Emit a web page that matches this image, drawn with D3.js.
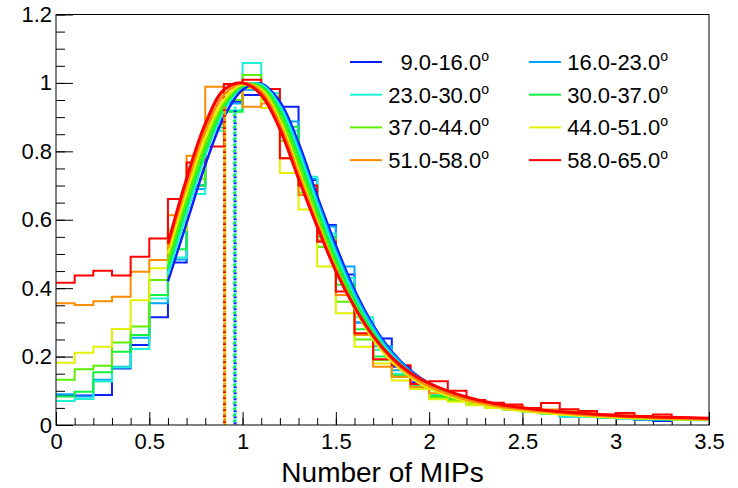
<!DOCTYPE html>
<html>
<head>
<meta charset="utf-8">
<script src="https://cdn.jsdelivr.net/npm/d3@7"></script>
<style>
  body { margin: 0; background: #fff; }
  text { font-family: "Liberation Sans", Arial, Helvetica, sans-serif; fill: #000; }
</style>
</head>
<body>
<div id="chart"></div>
<script>
// bin low edges (width 0.1), last entry closes the last bin
const binEdges = [0, 0.1, 0.2, 0.3, 0.4, 0.5, 0.6, 0.7, 0.8, 0.9, 1.0, 1.1, 1.2, 1.3, 1.4, 1.5, 1.6, 1.7,
  1.8, 1.9, 2.0, 2.1, 2.2, 2.3, 2.4, 2.5, 2.6, 2.7, 2.8, 2.9, 3.0, 3.1, 3.2, 3.3, 3.4, 3.5];

const labels = ["9.0-16.0", "16.0-23.0", "23.0-30.0", "30.0-37.0", "37.0-44.0", "44.0-51.0", "51.0-58.0", "58.0-65.0"];
const colors = ["#0a1eff", "#00a6ff", "#1ff2d2", "#12f040", "#5cf000", "#e3f000", "#ff8c00", "#ff0000"];

const hBlue = [0.088, 0.086, 0.088, 0.165, 0.234, 0.315, 0.475, 0.70, 0.895, 0.945, 0.965, 0.956, 0.93, 0.716, 0.585, 0.44, 0.30, 0.253, 0.17, 0.125, 0.09, 0.078, 0.064, 0.054, 0.046, 0.04, 0.034, 0.025, 0.026, 0.022, 0.02, 0.015, 0.012, 0.016, 0.015];
const hSky = [0.09, 0.083, 0.132, 0.17, 0.255, 0.356, 0.484, 0.69, 0.89, 0.94, 0.98, 0.97, 0.887, 0.72, 0.58, 0.463, 0.30, 0.23, 0.16, 0.12, 0.09, 0.076, 0.063, 0.053, 0.046, 0.04, 0.033, 0.026, 0.025, 0.022, 0.02, 0.016, 0.017, 0.015, 0.015];
const hCyan = [0.070, 0.076, 0.127, 0.168, 0.222, 0.37, 0.49, 0.675, 0.86, 0.92, 1.058, 0.97, 0.86, 0.726, 0.56, 0.43, 0.315, 0.22, 0.15, 0.115, 0.088, 0.074, 0.062, 0.052, 0.045, 0.038, 0.032, 0.024, 0.024, 0.022, 0.019, 0.017, 0.016, 0.015, 0.014];
const hGreen = [0.083, 0.097, 0.154, 0.214, 0.263, 0.38, 0.514, 0.70, 0.87, 0.916, 1.0, 0.96, 0.872, 0.70, 0.55, 0.41, 0.28, 0.20, 0.145, 0.11, 0.085, 0.075, 0.063, 0.054, 0.046, 0.04, 0.034, 0.03, 0.026, 0.023, 0.021, 0.019, 0.017, 0.016, 0.015];
const hLime = [0.132, 0.163, 0.173, 0.241, 0.288, 0.424, 0.57, 0.72, 0.88, 0.95, 1.023, 0.95, 0.83, 0.68, 0.52, 0.36, 0.25, 0.19, 0.14, 0.11, 0.08, 0.072, 0.06, 0.052, 0.046, 0.04, 0.034, 0.03, 0.027, 0.024, 0.022, 0.02, 0.018, 0.017, 0.016];
const hYellow = [0.182, 0.211, 0.229, 0.281, 0.365, 0.458, 0.57, 0.75, 0.90, 0.97, 0.985, 0.927, 0.737, 0.63, 0.463, 0.327, 0.229, 0.18, 0.13, 0.105, 0.075, 0.068, 0.058, 0.05, 0.045, 0.04, 0.035, 0.03, 0.027, 0.025, 0.022, 0.02, 0.024, 0.016, 0.015];
const hOrange = [0.356, 0.351, 0.362, 0.375, 0.448, 0.482, 0.613, 0.787, 0.989, 0.985, 0.93, 0.94, 0.78, 0.672, 0.54, 0.38, 0.263, 0.17, 0.141, 0.112, 0.093, 0.085, 0.072, 0.062, 0.055, 0.048, 0.045, 0.04, 0.034, 0.03, 0.028, 0.024, 0.022, 0.02, 0.02];
const hRed = [0.416, 0.437, 0.451, 0.437, 0.492, 0.545, 0.661, 0.767, 0.814, 0.997, 1.009, 0.982, 0.78, 0.70, 0.536, 0.39, 0.268, 0.192, 0.175, 0.12, 0.128, 0.10, 0.073, 0.065, 0.06, 0.05, 0.064, 0.046, 0.041, 0.031, 0.035, 0.026, 0.031, 0.021, 0.02];

// fitted curves
const fitX = [0.6, 0.7, 0.8, 0.9, 1.0, 1.1, 1.2, 1.3, 1.4, 1.5, 1.6, 1.7, 1.8, 1.9, 2.0, 2.2, 2.4, 2.6, 2.8, 3.0, 3.25, 3.5];
const fBlue = [0.42, 0.59, 0.76, 0.90, 0.98, 0.998, 0.945, 0.825, 0.67, 0.525, 0.395, 0.292, 0.215, 0.16, 0.122, 0.079, 0.055, 0.041, 0.032, 0.025, 0.02, 0.016];
const fSky = [0.45, 0.62, 0.79, 0.92, 0.99, 0.995, 0.935, 0.81, 0.655, 0.51, 0.385, 0.285, 0.21, 0.157, 0.12, 0.078, 0.054, 0.04, 0.031, 0.025, 0.02, 0.016];
const fCyan = [0.44, 0.62, 0.79, 0.92, 0.99, 0.995, 0.93, 0.80, 0.645, 0.50, 0.375, 0.277, 0.203, 0.152, 0.116, 0.075, 0.052, 0.039, 0.03, 0.024, 0.019, 0.016];
const fGreen = [0.46, 0.64, 0.80, 0.93, 0.99, 0.99, 0.92, 0.785, 0.63, 0.485, 0.365, 0.27, 0.198, 0.148, 0.113, 0.073, 0.051, 0.038, 0.03, 0.024, 0.019, 0.016];
const fLime = [0.48, 0.66, 0.82, 0.94, 0.995, 0.985, 0.905, 0.765, 0.61, 0.47, 0.35, 0.26, 0.19, 0.143, 0.11, 0.071, 0.05, 0.037, 0.029, 0.023, 0.018, 0.015];
const fYellow = [0.50, 0.68, 0.84, 0.95, 0.995, 0.98, 0.89, 0.745, 0.595, 0.455, 0.34, 0.25, 0.185, 0.14, 0.107, 0.069, 0.048, 0.036, 0.028, 0.022, 0.018, 0.015];
const fOrange = [0.52, 0.70, 0.86, 0.965, 1.0, 0.975, 0.88, 0.735, 0.59, 0.455, 0.345, 0.258, 0.192, 0.145, 0.113, 0.074, 0.052, 0.04, 0.031, 0.025, 0.02, 0.017];
const fRed = [0.53, 0.72, 0.88, 0.98, 1.0, 0.965, 0.865, 0.72, 0.58, 0.45, 0.345, 0.26, 0.197, 0.152, 0.122, 0.082, 0.058, 0.044, 0.035, 0.028, 0.023, 0.02];

// most probable value markers (dotted)
const mpvX = [0.96, 0.958, 0.96, 0.956, 0.905, 0.905, 0.904, 0.903];
const mpvTop = [0.92, 0.92, 0.93, 0.92, 0.925, 0.93, 0.93, 0.935];

const yMajor = [0, 0.2, 0.4, 0.6, 0.8, 1, 1.2];
const xMajor = [0, 0.5, 1, 1.5, 2, 2.5, 3, 3.5];

const hists = [hBlue, hSky, hCyan, hGreen, hLime, hYellow, hOrange, hRed];
const fits = [fBlue, fSky, fCyan, fGreen, fLime, fYellow, fOrange, fRed];

const width = 738, height = 488;
const frameL = 56, frameR = 709, frameT = 14.5, frameB = 425;

const svg = d3.select("#chart")
  .append("svg")
  .attr("width", width)
  .attr("height", height);

const x = d3.scaleLinear().domain([0, 3.5]).range([frameL, frameR]);
const y = d3.scaleLinear().domain([0, 1.2]).range([frameB, frameT]);

svg.append("clipPath").attr("id", "frame")
  .append("rect")
  .attr("x", frameL).attr("y", frameT)
  .attr("width", frameR - frameL).attr("height", frameB - frameT);

// axes, ROOT style ticks pointing into the frame
svg.append("g")
  .attr("transform", `translate(${frameL},0)`)
  .call(d3.axisLeft(y).tickValues(d3.range(0, 1.2001, 0.05)).tickSize(-9).tickFormat(""))
  .call(g => g.select(".domain").remove());
svg.append("g")
  .attr("transform", `translate(${frameL},0)`)
  .call(d3.axisLeft(y).tickValues(yMajor).tickSize(-17).tickPadding(4).tickFormat(d3.format("")))
  .call(g => g.select(".domain").remove())
  .call(g => g.selectAll("text").style("font-size", "22px"));

svg.append("g")
  .attr("transform", `translate(0,${frameB})`)
  .call(d3.axisBottom(x).tickValues(binEdges).tickSize(-7).tickFormat(""))
  .call(g => g.select(".domain").remove());
svg.append("g")
  .attr("transform", `translate(0,${frameB})`)
  .call(d3.axisBottom(x).tickValues(xMajor).tickSize(-13).tickPadding(8).tickFormat(d3.format("")))
  .call(g => g.select(".domain").remove())
  .call(g => g.selectAll("text").style("font-size", "22px"));

svg.selectAll(".tick line").attr("stroke", "#000");

const plot = svg.append("g").attr("clip-path", "url(#frame)");

const step = d3.line()
  .x(d => x(d[0]))
  .y(d => y(d[1]))
  .curve(d3.curveStepAfter);

const smooth = d3.line()
  .x(d => x(d[0]))
  .y(d => y(d[1]))
  .curve(d3.curveCatmullRom);

hists.forEach(function(h, i) {
  const pts = h.map((v, j) => [binEdges[j], v]);
  pts.push([binEdges[h.length], h[h.length - 1]]);
  plot.append("path")
    .attr("d", step(pts))
    .attr("fill", "none")
    .attr("stroke", colors[i])
    .attr("stroke-width", 2);
});

fits.forEach(function(f, i) {
  plot.append("path")
    .attr("d", smooth(f.map((v, j) => [fitX[j], v])))
    .attr("fill", "none")
    .attr("stroke", colors[i])
    .attr("stroke-width", i === 7 ? 3 : 2.5);
});

mpvX.forEach(function(m, i) {
  plot.append("line")
    .attr("x1", x(m)).attr("x2", x(m))
    .attr("y1", y(mpvTop[i])).attr("y2", y(0))
    .attr("stroke", colors[i])
    .attr("stroke-width", 3)
    .attr("stroke-dasharray", "2,4")
    .attr("stroke-dashoffset", (i % 2) * 2);
});

// frame
svg.append("rect")
  .attr("x", frameL).attr("y", frameT)
  .attr("width", frameR - frameL).attr("height", frameB - frameT)
  .attr("fill", "none")
  .attr("stroke", "#000")
  .attr("stroke-width", 1);

// legend, two columns
const legend = svg.append("g");
labels.forEach(function(lab, i) {
  const col = i % 2, row = Math.floor(i / 2);
  const lx = col === 0 ? 350 : 529;
  const ly = 62 + row * 32.7;
  legend.append("line")
    .attr("x1", lx).attr("x2", lx + 32)
    .attr("y1", ly).attr("y2", ly)
    .attr("stroke", colors[i])
    .attr("stroke-width", 2);
  const t = legend.append("text")
    .attr("x", col === 0 ? 489 : 668)
    .attr("y", ly + 8)
    .attr("text-anchor", "end")
    .style("font-size", "22px")
    .text(lab);
  t.append("tspan")
    .attr("dy", -9)
    .style("font-size", "14px")
    .text("o");
});

svg.append("text")
  .attr("x", (frameL + frameR) / 2)
  .attr("y", 482)
  .attr("text-anchor", "middle")
  .style("font-size", "28px")
  .text("Number of MIPs");
</script>
</body>
</html>
